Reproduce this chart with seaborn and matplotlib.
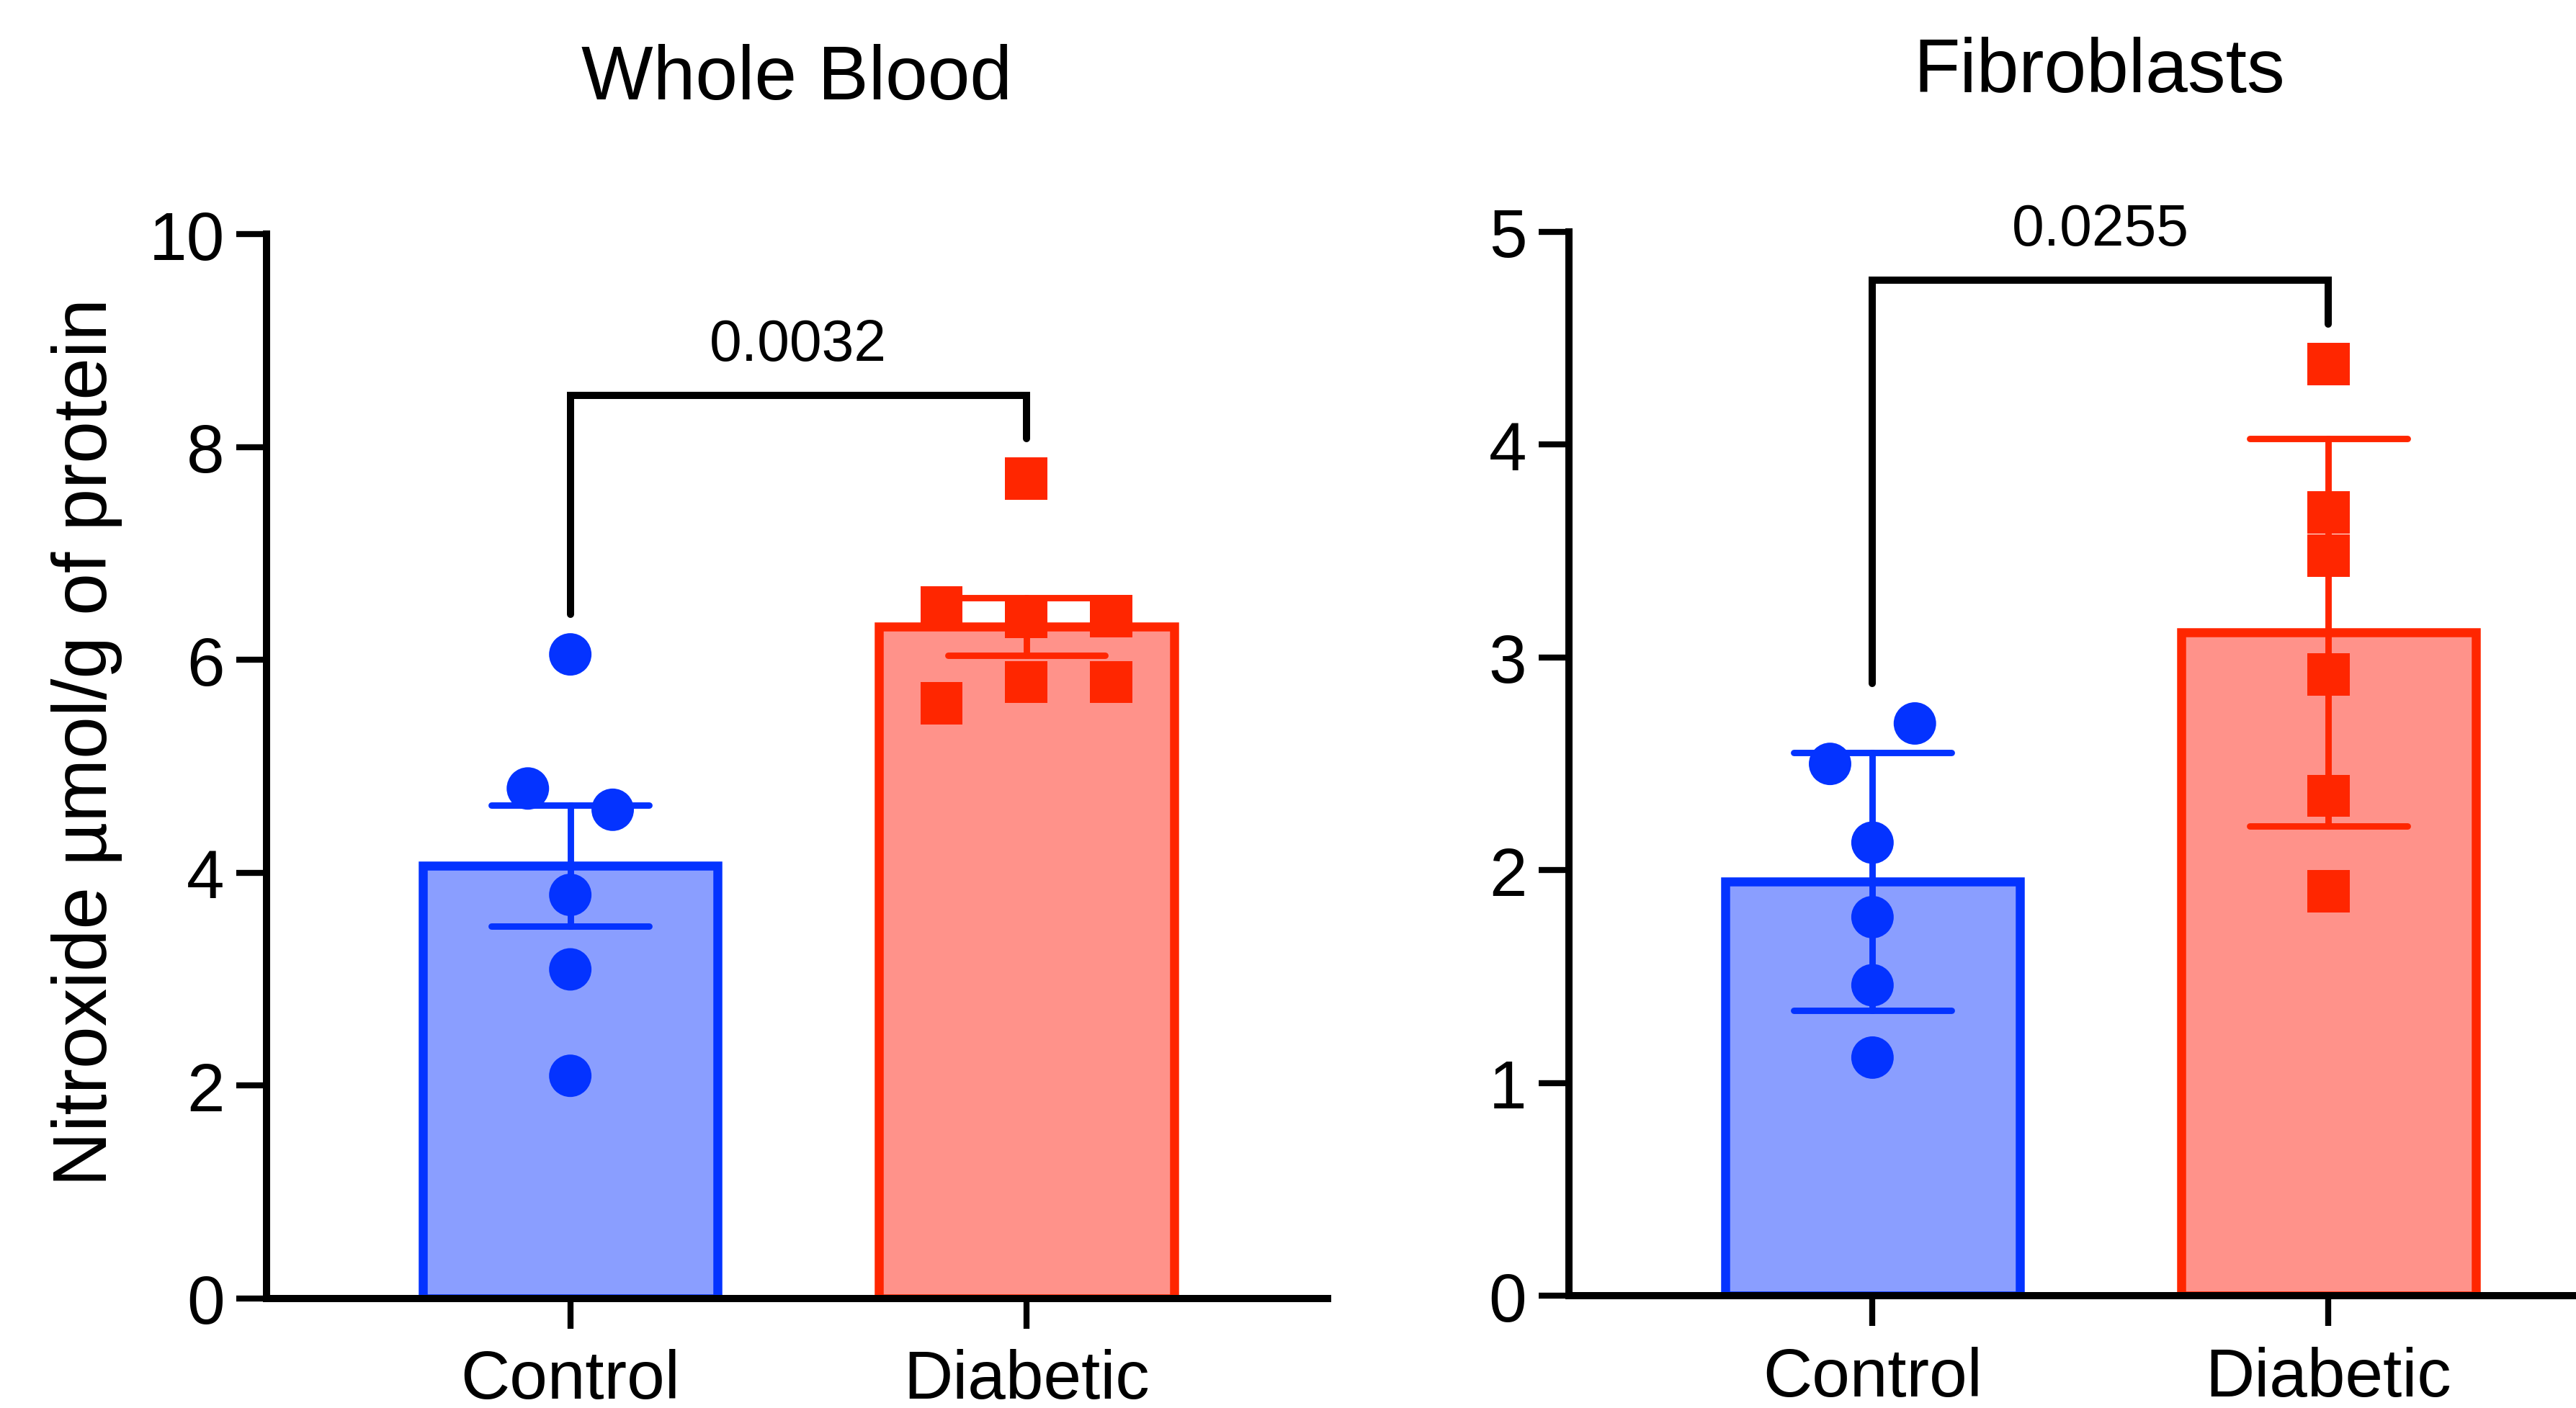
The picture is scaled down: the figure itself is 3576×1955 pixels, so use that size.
import numpy as np
import pandas as pd
import matplotlib
matplotlib.use("Agg")
import matplotlib.pyplot as plt
import seaborn as sns

# ---------------- data ----------------
groups = ["Control", "Diabetic"]
wb_control = [6.05, 4.79, 4.59, 3.79, 3.09, 2.09]
wb_diabetic = [7.70, 6.49, 6.40, 6.41, 5.59, 5.79, 5.79]
fb_control = [2.50, 2.69, 2.13, 1.78, 1.46, 1.12]
fb_diabetic = [4.38, 3.68, 3.48, 2.92, 2.35, 1.90]
panel_titles = ["Whole Blood", "Fibroblasts"]
p_values = ["0.0032", "0.0255"]
y_max = [10, 5]
y_ticks = [[0, 2, 4, 6, 8, 10], [0, 1, 2, 3, 4, 5]]
error_kind = [("se", 1), ("sd", 1)]
y_label = "Nitroxide µmol/g of protein"

# ---------------- style ----------------
fill_colors = {"Control": "#8A9EFF", "Diabetic": "#FF928A"}
edge_colors = {"Control": "#0433FF", "Diabetic": "#FF2600"}
markers = {"Control": "o", "Diabetic": "s"}

sns.set_theme(style="ticks", rc={
    "axes.edgecolor": "black", "xtick.color": "black", "ytick.color": "black",
    "text.color": "black", "axes.labelcolor": "black",
    "axes.facecolor": "white", "figure.facecolor": "white",
})
plt.rcParams["font.family"] = ["Liberation Sans", "DejaVu Sans"]


def spread_offsets(values, threshold, spacing):
    """Prism-like column scatter: overlapping points are spread sideways."""
    vals = np.asarray(values, float)
    order = np.argsort(vals, kind="stable")
    offsets = np.zeros(len(vals))
    clusters, cur = [], [order[0]]
    for a, b in zip(order[:-1], order[1:]):
        if vals[b] - vals[a] < threshold:
            cur.append(b)
        else:
            clusters.append(cur)
            cur = [b]
    clusters.append(cur)
    for c in clusters:
        c = sorted(c)
        n = len(c)
        for k, idx in enumerate(c):
            offsets[idx] = (k - (n - 1) / 2) * spacing
    return offsets


fig = plt.figure(figsize=(17.88, 9.78), dpi=200)
axes_rects = [[0.10347, 0.07796, 0.4118, 0.75537],
              [0.60898, 0.07955, 0.4118, 0.75537]]
title_pads = [67.6, 70.0]
panel_data = [(wb_control, wb_diabetic), (fb_control, fb_diabetic)]

for i in range(2):
    ax = fig.add_axes(axes_rects[i])
    ctrl, diab = panel_data[i]
    ymax = y_max[i]
    df = pd.DataFrame({
        "group": ["Control"] * len(ctrl) + ["Diabetic"] * len(diab),
        "value": list(ctrl) + list(diab),
    })
    df["pos"] = df["group"].map({g: k for k, g in enumerate(groups)}).astype(float)
    offs = np.concatenate([spread_offsets(ctrl, 0.039 * ymax, 0.186),
                           spread_offsets(diab, 0.039 * ymax, 0.186)])
    df["xpos"] = df["pos"] + offs

    sns.barplot(data=df, x="pos", y="value", hue="group", hue_order=groups,
                palette=fill_colors, saturation=1, native_scale=True,
                width=0.647, errorbar=error_kind[i], capsize=0.345,
                err_kws={"linewidth": 3.2, "solid_capstyle": "round"},
                linewidth=4.5, legend=False, ax=ax)
    for patch in ax.patches:
        cx = patch.get_x() + patch.get_width() / 2
        patch.set_edgecolor(edge_colors[groups[int(round(cx))]])
        patch.set_linewidth(4.5)
    for line in ax.lines:
        cx = np.nanmean(np.asarray(line.get_xdata(), float))
        line.set_color(edge_colors[groups[int(round(cx))]])
        line.set_zorder(3)

    sns.scatterplot(data=df, x="xpos", y="value", hue="group", style="group",
                    hue_order=groups, style_order=groups, palette=edge_colors,
                    markers=markers, s=450, linewidth=0, legend=False,
                    ax=ax, zorder=4)

    # significance bracket, placed relative to the data
    leg_l = max(ctrl) + 0.0375 * ymax
    leg_r = max(diab) + 0.0375 * ymax
    top = max(leg_l, leg_r) + 0.041 * ymax
    ax.plot([0, 0, 1, 1], [leg_l, top, top, leg_r], color="black",
            linewidth=3.6, solid_capstyle="round", solid_joinstyle="miter",
            zorder=5, clip_on=False)
    ax.text(0.5, top + 0.033 * ymax, p_values[i], ha="center", va="baseline",
            fontsize=29, clip_on=False)

    ax.set_xlim(-0.666, 1.66)
    ax.set_ylim(0, ymax)
    ax.set_yticks(y_ticks[i])
    ax.set_xticks([0, 1], groups)
    sns.despine(ax=ax)
    for sp in ["left", "bottom"]:
        ax.spines[sp].set_linewidth(3.6)
        ax.spines[sp].set_color("black")
    ax.tick_params(axis="both", length=15, width=3, labelsize=34,
                   color="black", labelcolor="black")
    ax.tick_params(axis="y", pad=6)
    ax.tick_params(axis="x", pad=10)
    ax.set_xlabel("")
    ax.set_title(panel_titles[i], fontsize=38, pad=title_pads[i])
    if i == 0:
        ax.set_ylabel(y_label, fontsize=38)
        ax.yaxis.set_label_coords(-0.1358, 0.5235)
    else:
        ax.set_ylabel("")

fig.savefig("out.png", dpi=200, facecolor="white")
